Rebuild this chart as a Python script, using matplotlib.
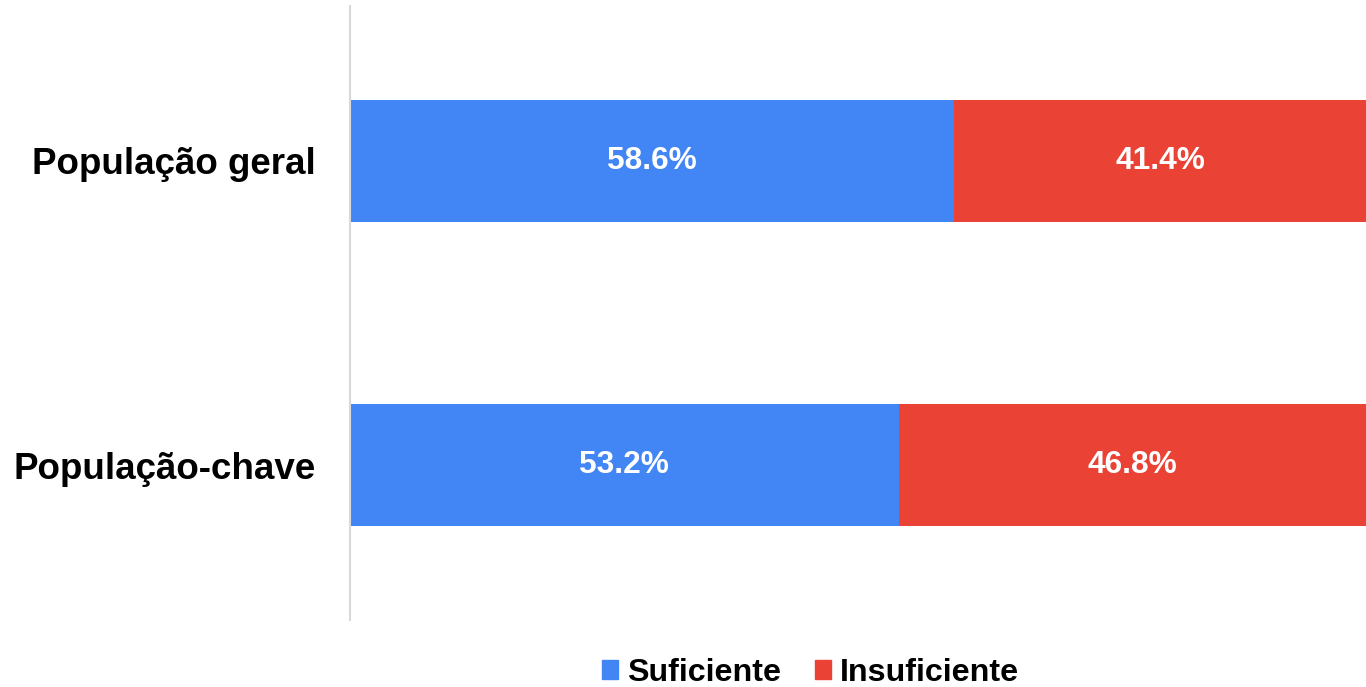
import matplotlib.pyplot as plt
from matplotlib.patches import Patch

categories = ["População geral", "População-chave"]
suficiente = [58.6, 53.2]
insuficiente = [41.4, 46.8]
series_names = ["Suficiente", "Insuficiente"]
colors = ["#4285F4", "#EA4335"]

plt.rcParams["font.family"] = ["Liberation Sans", "DejaVu Sans"]

fig = plt.figure(figsize=(13.66, 6.87), dpi=100)
ax = fig.add_axes([350 / 1366, 1 - 620 / 687, 1 - 350 / 1366, 614 / 687])

# the original chart is cut off at the right edge, so the visible range stops short of 100
xmax = 98.5

y = list(range(len(categories)))
b1 = ax.barh(y, suficiente, height=0.4, color=colors[0])
b2 = ax.barh(y, insuficiente, left=suficiente, height=0.4, color=colors[1])

for vals, lefts in [(suficiente, [0, 0]), (insuficiente, suficiente)]:
    for yi, v, l in zip(y, vals, lefts):
        xc = (l + min(l + v, xmax)) / 2
        ax.text(xc, yi, f"{v:.1f}%", ha="center", va="center",
                color="white", fontsize=22.8, fontweight="bold")

ax.set_xlim(0, xmax)
ax.set_ylim(1.508, -0.508)
ax.set_yticks(y)
ax.set_yticklabels(categories, fontsize=26.5, fontweight="bold")
ax.tick_params(axis="y", length=0, pad=24.5)
ax.set_xticks([])
for s in ["top", "right", "bottom"]:
    ax.spines[s].set_visible(False)
ax.spines["left"].set_color("#d9d9d9")
ax.spines["left"].set_linewidth(1.5)

handles = [Patch(color=c) for c in colors]
fig.legend(handles, series_names, loc="center", bbox_to_anchor=(810.5 / 1366, 1 - 673 / 687),
           ncol=2, frameon=False, prop={"size": 23.2, "weight": "bold"},
           handlelength=0.5, handleheight=0.5, handletextpad=0.25, columnspacing=1.08)

plt.savefig("out.png", dpi=100)
plt.close()
